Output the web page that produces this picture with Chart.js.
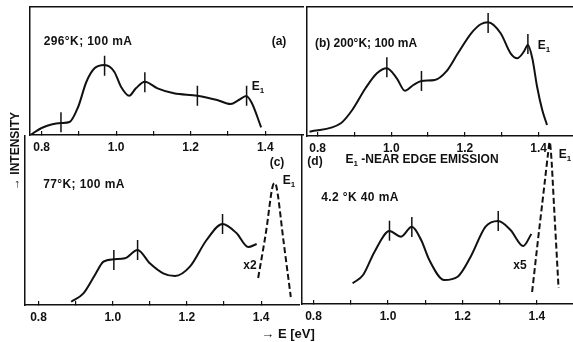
<!DOCTYPE html>
<html>
<head>
<meta charset="utf-8">
<script src="https://cdn.jsdelivr.net/npm/chart.js@4.4.1/dist/chart.umd.min.js"></script>
<style>
  body { margin: 0; background: #fff; }
  #wrap { position: relative; width: 573px; height: 342px; overflow: hidden; background: #fff; }
  canvas { position: absolute; }
  .t {
    position: absolute; transform: translate(-50%, -50%); white-space: nowrap;
    font-family: "Liberation Sans", Arial, sans-serif; font-weight: bold; font-size: 12px; color: #111;
  }
  .t sub { font-size: 8px; }
  .rot { transform: translate(-50%, -50%) rotate(-90deg); }
</style>
</head>
<body>
<div id="wrap">
  <canvas id="panelA" width="280" height="154" style="left:24px;top:3px"></canvas>
  <canvas id="panelB" width="273" height="155" style="left:300px;top:3px"></canvas>
  <canvas id="panelC" width="279" height="195" style="left:21px;top:132px"></canvas>
  <canvas id="panelD" width="277" height="194" style="left:296px;top:132px"></canvas>

  <div class="t" style="left:88px;top:41px;letter-spacing:0.4px">296°K; 100 mA</div>
  <div class="t" style="left:279px;top:41px">(a)</div>
  <div class="t" style="left:258px;top:87px">E<sub>1</sub></div>
  <div class="t" style="left:366px;top:43px">(b) 200°K; 100 mA</div>
  <div class="t" style="left:544px;top:46px">E<sub>1</sub></div>
  <div class="t" style="left:277px;top:162px">(c)</div>
  <div class="t" style="left:84px;top:184px;letter-spacing:0.4px">77°K; 100 mA</div>
  <div class="t" style="left:289px;top:181px">E<sub>1</sub></div>
  <div class="t" style="left:250px;top:265px">x2</div>
  <div class="t" style="left:315px;top:161px">(d)</div>
  <div class="t" style="left:422px;top:160px">E<sub>1</sub> -NEAR EDGE EMISSION</div>
  <div class="t" style="left:565px;top:155px">E<sub>1</sub></div>
  <div class="t" style="left:360px;top:197px;letter-spacing:0.4px">4.2 °K 40 mA</div>
  <div class="t" style="left:520px;top:265px">x5</div>
  <div class="t rot" style="left:15px;top:151px">→ INTENSITY</div>
  <div class="t" style="left:288px;top:333px;font-size:13px">→ E [eV]</div>
</div>

<script>
// x axis ticks (eV)
const xTickValues = [0.8, 0.9, 1.0, 1.1, 1.2, 1.3, 1.4];
const xTickLabels = ["0.8", "1.0", "1.2", "1.4"];

// (a) 296 K, 100 mA
const aEnergy = [0.77, 0.80, 0.852, 0.875, 0.898, 0.92, 0.942, 0.969, 0.995, 1.013, 1.035, 1.053, 1.077, 1.111, 1.155, 1.218, 1.271, 1.307, 1.329, 1.349, 1.364, 1.389];
const aIntensity = [0, 7, 12, 13, 28, 53, 66.7, 70, 63.3, 48.3, 39.3, 46.7, 53.3, 46.7, 41.7, 39.3, 35, 31, 35, 39, 32, 7.7];
const aPeakE = [0.852, 0.969, 1.077, 1.218, 1.35];
const aPeakI = [12.7, 69.3, 52.7, 39.3, 39.3];

// (b) 200 K, 100 mA
const bEnergy = [0.778, 0.863, 0.894, 0.93, 0.961, 0.988, 1.015, 1.037, 1.06, 1.082, 1.118, 1.149, 1.181, 1.217, 1.244, 1.263, 1.297, 1.324, 1.342, 1.36, 1.371, 1.383, 1.396, 1.41, 1.423];
const bIntensity = [4.3, 12.7, 26, 47.7, 62.7, 67.7, 57.7, 45.3, 51, 55, 56, 64.3, 82.7, 102.7, 112, 113.7, 102.7, 82.7, 77.7, 84.3, 91, 77.7, 49.3, 26, 11];
const bPeakE = [0.988, 1.082, 1.263, 1.371];
const bPeakI = [68.7, 55, 113, 92];

// (c) 77 K, 100 mA  (dashed part = E1 peak, x2)
const cEnergy = [0.888, 0.921, 0.952, 0.975, 1.003, 1.033, 1.067, 1.1, 1.136, 1.168, 1.208, 1.253, 1.296, 1.334, 1.365, 1.388];
const cIntensity = [3.3, 11.7, 30, 43.3, 45.7, 46.7, 55, 41.7, 31.7, 29, 38.3, 65, 81, 71.7, 58, 61];
const cEdgeE = [1.392, 1.414, 1.43, 1.436, 1.442, 1.46, 1.48];
const cEdgeI = [27, 75, 117, 122, 117, 65, 8];
const cPeakE = [1.003, 1.067, 1.296];
const cPeakI = [45, 55, 81];

// (d) 4.2 K, 40 mA  (dashed part = E1 peak, x5)
const dEnergy = [0.905, 0.933, 0.964, 1.004, 1.035, 1.064, 1.089, 1.111, 1.151, 1.187, 1.222, 1.262, 1.296, 1.329, 1.363, 1.385];
const dIntensity = [20.7, 29, 52.3, 73, 67.3, 77.3, 64, 44, 24, 27.3, 47.3, 77.3, 83, 74, 58, 70];
const dEdgeE = [1.387, 1.40, 1.42, 1.43, 1.434, 1.438, 1.446, 1.458];
const dEdgeI = [12, 55, 119, 151, 162, 150, 97, 16];
const dPeakE = [1.004, 1.064, 1.296];
const dPeakI = [73.3, 77, 83];

const ink = "#111";
const zip = (xs, ys) => xs.map((x, i) => ({ x: x, y: ys[i] }));

function makePanel(id, energy, intensity, edgeE, edgeI, peakE, peakI, xMin, xMax, yMax, topBorder) {
  const datasets = [{
    data: zip(energy, intensity),
    borderColor: ink,
    borderWidth: 2,
    pointRadius: 0,
    cubicInterpolationMode: "monotone",
    fill: false,
  }];
  if (edgeE) {
    datasets.push({
      data: zip(edgeE, edgeI),
      borderColor: ink,
      borderWidth: 2,
      borderDash: [6, 3],
      pointRadius: 0,
      cubicInterpolationMode: "monotone",
      fill: false,
    });
  }
  // short vertical bars marking the peaks
  datasets.push({
    data: zip(peakE, peakI),
    showLine: false,
    pointStyle: "line",
    rotation: 90,
    pointRadius: 10,
    borderColor: ink,
    borderWidth: 1.5,
  });

  const scales = {
    x: {
      type: "linear",
      position: "bottom",
      min: xMin,
      max: xMax,
      afterBuildTicks: s => { s.ticks = xTickValues.map(v => ({ value: v })); },
      afterFit: s => { s.height = 22; },
      ticks: {
        autoSkip: false,
        maxRotation: 0,
        padding: 9,
        color: ink,
        font: { family: "Liberation Sans", weight: "bold", size: 12 },
        callback: v => {
          const lbl = v.toFixed(1);
          return xTickLabels.includes(lbl) ? lbl : "";
        },
      },
      grid: { drawOnChartArea: false, tickLength: -4, color: ink, lineWidth: 1.2 },
      border: { color: ink, width: 1.5 },
    },
    y: {
      type: "linear",
      position: "left",
      min: 0,
      max: yMax,
      afterFit: s => { s.width = 0; },
      ticks: { display: false },
      grid: { drawOnChartArea: false, drawTicks: false },
      border: { color: ink, width: 1.5 },
    },
  };
  if (topBorder) {
    scales.xTop = {
      type: "linear",
      position: "top",
      min: xMin,
      max: xMax,
      afterFit: s => { s.height = 0; },
      ticks: { display: false },
      grid: { drawOnChartArea: false, drawTicks: false },
      border: { color: ink, width: 1.5 },
    };
  }

  return new Chart(document.getElementById(id), {
    type: "line",
    data: { datasets: datasets },
    options: {
      responsive: false,
      animation: false,
      devicePixelRatio: 1,
      layout: { autoPadding: false, padding: { left: 4, top: 4, right: 0, bottom: 0 } },
      plugins: { legend: { display: false }, tooltip: { enabled: false } },
      scales: scales,
    },
  });
}

makePanel("panelA", aEnergy, aIntensity, null, null, aPeakE, aPeakI, 0.768, 1.504, 128, true);
makePanel("panelB", bEnergy, bIntensity, null, null, bPeakE, bPeakI, 0.7704, 1.4935, 129, true);
makePanel("panelC", cEnergy, cIntensity, cEdgeE, cEdgeI, cPeakE, cPeakI, 0.7636, 1.5048, 169, false);
makePanel("panelD", dEnergy, dIntensity, dEdgeE, dEdgeI, dPeakE, dPeakI, 0.7688, 1.4968, 168, false);
</script>
</body>
</html>
